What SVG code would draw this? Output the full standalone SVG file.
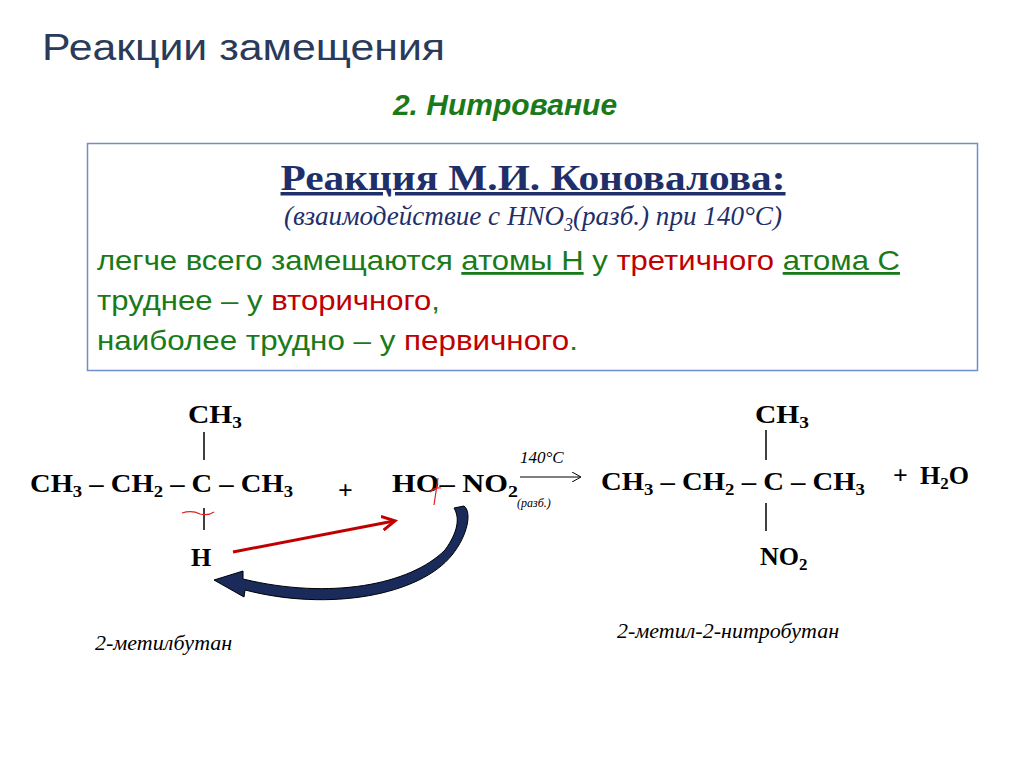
<svg xmlns="http://www.w3.org/2000/svg" width="1024" height="767" viewBox="0 0 1024 767">
<defs>
<style>
.chem{font-family:"Liberation Serif",serif;font-weight:bold;font-size:26px;fill:#000}
.sub{font-size:17px}
.it{font-family:"Liberation Serif",serif;font-style:italic;fill:#000}
.g{fill:#1a7a1a}.r{fill:#c00000}
.ln{font-family:"Liberation Sans",sans-serif;font-size:28px}
</style>
<marker id="ah" markerWidth="10" markerHeight="10" refX="8" refY="5" orient="auto" markerUnits="userSpaceOnUse"><path d="M0,0 L9,5 L0,10" fill="none" stroke="#000" stroke-width="1"/></marker>
<marker id="rh" markerWidth="16" markerHeight="16" refX="12" refY="8" orient="auto" markerUnits="userSpaceOnUse"><path d="M0,1 L13,8 L0,15" fill="none" stroke="#c00000" stroke-width="3"/></marker>
</defs>
<rect width="1024" height="767" fill="#fff"/>
<g id="title"><text x="42" y="60" font-family="Liberation Sans,sans-serif" font-size="36" fill="#2a3a5a" textLength="403" lengthAdjust="spacingAndGlyphs">Реакции замещения</text></g>
<g id="subtitle"><text x="505" y="115" text-anchor="middle" font-family="Liberation Sans,sans-serif" font-size="30" font-weight="bold" font-style="italic" fill="#1a7a1a">2. Нитрование</text></g>
<g id="box">
<rect x="87.5" y="143.5" width="890" height="227" fill="#fff" stroke="#6f8fc8" stroke-width="1.5"/>
<text x="533" y="190" text-anchor="middle" font-family="Liberation Serif,serif" font-weight="bold" font-size="35" fill="#1f2f6a" textLength="505" lengthAdjust="spacingAndGlyphs" text-decoration="underline">Реакция   М.И. Коновалова:</text>
<text x="533" y="225" text-anchor="middle" font-family="Liberation Serif,serif" font-style="italic" font-size="28" fill="#1f2f6a" textLength="498" lengthAdjust="spacingAndGlyphs">(взаимодействие с  HNO<tspan dy="6" font-size="18">3</tspan><tspan dy="-6">(разб.) при 140°C)</tspan></text>
<text x="97" y="270" class="ln" textLength="803" lengthAdjust="spacingAndGlyphs"><tspan class="g">легче всего замещаются </tspan><tspan class="g" text-decoration="underline">атомы Н</tspan><tspan class="g"> у </tspan><tspan class="r">третичного</tspan><tspan class="g"> </tspan><tspan class="g" text-decoration="underline">атома С</tspan></text>
<text x="97" y="310" class="ln" textLength="343" lengthAdjust="spacingAndGlyphs"><tspan class="g">труднее – у </tspan><tspan class="r">вторичного</tspan><tspan class="g">,</tspan></text>
<text x="97" y="350" class="ln" textLength="481" lengthAdjust="spacingAndGlyphs"><tspan class="g">наиболее трудно – у </tspan><tspan class="r">первичного</tspan><tspan class="g">.</tspan></text>
</g>
<g id="reactant">
<text class="chem" x="188" y="423" textLength="54" lengthAdjust="spacingAndGlyphs">CH<tspan class="sub" dy="5">3</tspan></text>
<line x1="204" y1="432" x2="204" y2="460" stroke="#000" stroke-width="1.5"/>
<text class="chem" x="30" y="492" textLength="263" lengthAdjust="spacingAndGlyphs">CH<tspan class="sub" dy="5">3</tspan><tspan dy="-5"> – CH</tspan><tspan class="sub" dy="5">2</tspan><tspan dy="-5"> – C – CH</tspan><tspan class="sub" dy="5">3</tspan></text>
<line x1="204" y1="508" x2="204" y2="530" stroke="#000" stroke-width="1.5"/>
<path d="M182,513 Q192,510 200,514 Q208,516 214,512" fill="none" stroke="#e02020" stroke-width="1.2"/>
<text class="chem" x="191" y="566">H</text>
</g>
<g id="plus1"><text class="chem" x="338" y="499" font-size="16">+</text></g>
<g id="reagent">
<text class="chem" x="392" y="492" textLength="126" lengthAdjust="spacingAndGlyphs">HO– NO<tspan class="sub" dy="5">2</tspan></text>
<path d="M438,478 L434,505 M430,492 Q435,487 441,488" fill="none" stroke="#e02020" stroke-width="1.2"/>
<text class="it" x="517" y="507" font-size="12">(разб.)</text>
</g>
<g id="conditions">
<text class="it" x="520" y="463" font-size="17">140°C</text>
</g>
<g id="product">
<text class="chem" x="755" y="423" textLength="54" lengthAdjust="spacingAndGlyphs">CH<tspan class="sub" dy="5">3</tspan></text>
<line x1="766" y1="430" x2="766" y2="460" stroke="#000" stroke-width="1.5"/>
<text class="chem" x="601" y="490" textLength="264" lengthAdjust="spacingAndGlyphs">CH<tspan class="sub" dy="5">3</tspan><tspan dy="-5"> – CH</tspan><tspan class="sub" dy="5">2</tspan><tspan dy="-5"> – C – CH</tspan><tspan class="sub" dy="5">3</tspan></text>
<line x1="766" y1="503" x2="766" y2="531" stroke="#000" stroke-width="1.5"/>
<text class="chem" x="760" y="565">NO<tspan class="sub" dy="5">2</tspan></text>
</g>
<g id="plus2"><text class="chem" x="893" y="484" font-size="16">+</text></g>
<g id="water"><text class="chem" x="920" y="484">H<tspan class="sub" dy="5">2</tspan><tspan dy="-5">O</tspan></text></g>
<g id="names">
<text class="it" x="95" y="650" font-size="22">2-метилбутан</text>
<text class="it" x="617" y="638" font-size="22">2-метил-2-нитробутан</text>
</g>
<g id="connectors">
<line x1="520" y1="477" x2="580" y2="477" stroke="#000" stroke-width="1.2" marker-end="url(#ah)"/>
<line x1="233" y1="552" x2="394" y2="521" stroke="#c00000" stroke-width="3" marker-end="url(#rh)"/>
<path d="M464,506 C472,512 468,535 452,555 C420,595 330,612 245,590 L244,597 L214,580 L243,571 L243,579 C330,600 410,585 445,550 C458,532 460,518 454,508 Z" fill="#1a2a5a" stroke="#000" stroke-width="1"/>
</g>
</svg>
